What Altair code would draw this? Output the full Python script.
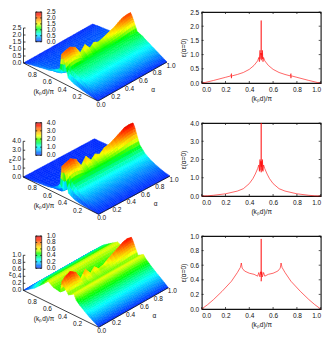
import altair as alt
import pandas as pd

# ---- shared grids of the three surfaces ----
K = [0, .05, .1, .15, .2, .25, .3, .33, .4, .44, .47, .49, .51, .54, .6, .67, .85, .93, 1]
A = [0, .05, .12, .2, .27, .34, .41, .47, .53, .6, .68, .77, .82, .88, .94, 1]

S1 = [
 [0,.03,.08,.13,.18,.25,.32,.37,.55,1.5,1.85,2.0,.95,.8,.6,.4,.2,.1,0],
 [0,.1,.22,.35,.48,.6,.72,.8,.98,1.55,1.95,2.1,.6,.4,.3,.25,.15,.08,0],
 [0,.13,.27,.41,.55,.68,.8,.88,1.03,1.6,2.02,2.18,.4,.28,.2,.18,.12,.06,0],
 [0,.14,.28,.42,.56,.69,.81,.88,1.04,1.5,1.78,1.95,.3,.22,.18,.16,.1,.06,0],
 [0,.14,.28,.42,.56,.69,.81,.88,1.03,1.2,1.3,1.35,.28,.22,.18,.16,.1,.06,0],
 [0,.14,.28,.42,.56,.69,.81,.88,1.03,1.38,1.6,1.75,.28,.22,.18,.16,.1,.06,0],
 [0,.14,.28,.42,.56,.69,.81,.88,1.02,1.18,1.28,1.32,.26,.2,.18,.16,.1,.06,0],
 [0,.14,.28,.42,.56,.69,.81,.88,1.03,1.3,1.45,1.55,.26,.2,.18,.16,.1,.06,0],
 [0,.14,.28,.42,.56,.7,.82,.89,1.03,1.22,1.32,1.4,.26,.2,.18,.16,.1,.06,0],
 [0,.14,.28,.43,.57,.7,.83,.9,1.04,1.27,1.4,1.5,.26,.2,.18,.16,.1,.06,0],
 [0,.14,.28,.43,.57,.71,.84,.91,1.05,1.35,1.55,1.67,.28,.22,.2,.17,.1,.06,0],
 [0,.14,.28,.43,.57,.71,.85,.92,1.06,1.42,1.68,1.82,.3,.24,.2,.18,.11,.06,0],
 [0,.14,.28,.43,.57,.72,.85,.93,1.07,1.5,1.82,1.98,.32,.25,.21,.18,.11,.06,0],
 [0,.14,.28,.43,.57,.72,.86,.94,1.08,1.6,1.98,2.14,.34,.26,.22,.19,.11,.06,0],
 [0,.14,.28,.43,.57,.72,.86,.95,1.09,1.65,2.05,2.2,.36,.27,.22,.19,.11,.06,0],
 [0,.14,.28,.43,.57,.72,.86,.96,1.1,1.65,2.05,2.2,.38,.28,.23,.19,.11,.06,0],
]
S2 = [
 [0,.01,.04,.08,.12,.18,.27,.35,.68,2.5,3.05,3.3,1.3,.9,.55,.3,.1,.04,0],
 [0,.08,.2,.33,.5,.7,.92,1.08,1.7,2.6,3.2,3.45,.3,.15,.1,.07,.03,.01,0],
 [0,.08,.2,.34,.5,.7,.95,1.1,1.75,2.75,3.4,3.65,.25,.12,.08,.06,.03,.01,0],
 [0,.08,.2,.34,.5,.7,.95,1.1,1.75,2.55,3.0,3.25,.25,.12,.08,.06,.03,.01,0],
 [0,.08,.2,.34,.5,.7,.95,1.1,1.75,2.05,2.15,2.2,.22,.12,.08,.06,.03,.01,0],
 [0,.08,.2,.34,.5,.7,.95,1.1,1.75,2.4,2.8,3.0,.22,.12,.08,.06,.03,.01,0],
 [0,.08,.2,.34,.5,.7,.95,1.1,1.75,2.05,2.15,2.25,.22,.12,.08,.06,.03,.01,0],
 [0,.08,.2,.34,.5,.7,.95,1.1,1.75,2.25,2.5,2.7,.22,.12,.08,.06,.03,.01,0],
 [0,.08,.2,.34,.5,.7,.95,1.1,1.75,2.1,2.3,2.4,.22,.12,.08,.06,.03,.01,0],
 [0,.08,.2,.34,.5,.7,.95,1.1,1.76,2.3,2.65,2.85,.24,.12,.08,.06,.03,.01,0],
 [0,.08,.2,.34,.5,.7,.95,1.1,1.77,2.4,2.8,3.0,.25,.13,.08,.06,.03,.01,0],
 [0,.08,.2,.34,.5,.7,.95,1.12,1.78,2.6,3.15,3.4,.26,.13,.09,.06,.03,.01,0],
 [0,.08,.2,.34,.5,.7,.95,1.12,1.8,2.7,3.35,3.6,.28,.14,.09,.06,.03,.01,0],
 [0,.08,.2,.34,.5,.7,.96,1.13,1.8,2.85,3.6,3.9,.3,.14,.09,.06,.03,.01,0],
 [0,.08,.2,.34,.5,.7,.96,1.13,1.8,2.9,3.65,3.95,.3,.15,.09,.06,.03,.01,0],
 [0,.08,.2,.34,.5,.7,.96,1.15,1.82,2.85,3.6,3.9,.3,.15,.09,.06,.03,.01,0],
]
S3 = [
 [0,.07,.13,.2,.28,.36,.46,.6,.5,.62,.7,.78,.47,.48,.5,.6,.22,.1,0],
 [0,.09,.17,.25,.33,.42,.52,.6,.5,.67,.82,.88,.45,.46,.5,.6,.3,.14,0],
 [0,.09,.17,.25,.33,.42,.52,.6,.5,.7,.88,.94,.45,.46,.5,.6,.33,.15,0],
 [0,.09,.17,.25,.33,.42,.52,.6,.5,.66,.78,.83,.45,.46,.5,.6,.33,.15,0],
 [0,.09,.17,.25,.33,.42,.52,.6,.5,.52,.54,.56,.45,.46,.5,.6,.33,.15,0],
 [0,.09,.17,.25,.33,.42,.52,.6,.5,.62,.7,.76,.45,.46,.5,.6,.33,.15,0],
 [0,.09,.17,.25,.33,.42,.52,.6,.5,.52,.54,.56,.45,.46,.5,.6,.33,.15,0],
 [0,.09,.17,.25,.33,.42,.52,.6,.5,.57,.64,.68,.45,.46,.5,.6,.33,.15,0],
 [0,.09,.17,.25,.33,.42,.52,.6,.5,.53,.54,.56,.45,.46,.5,.6,.33,.15,0],
 [0,.09,.17,.25,.33,.42,.52,.6,.5,.55,.57,.6,.45,.46,.5,.6,.33,.15,0],
 [0,.09,.17,.25,.33,.42,.52,.6,.5,.6,.66,.7,.45,.46,.5,.6,.33,.15,0],
 [0,.09,.17,.25,.33,.42,.52,.6,.5,.65,.75,.8,.45,.46,.5,.6,.33,.15,0],
 [0,.09,.17,.25,.33,.42,.52,.6,.5,.67,.8,.85,.45,.46,.5,.6,.33,.15,0],
 [0,.09,.17,.25,.33,.42,.52,.6,.5,.7,.86,.92,.45,.46,.5,.6,.33,.15,0],
 [0,.09,.17,.25,.33,.42,.52,.6,.5,.72,.88,.95,.45,.46,.5,.6,.33,.15,0],
 [0,.09,.17,.25,.33,.42,.52,.6,.5,.7,.86,.92,.45,.46,.5,.6,.33,.15,0],
]
EPS_MAX = [2.5, 4.0, 1.0]
EPS_TICKS = [[0, .5, 1, 1.5, 2, 2.5], [0, 1, 2, 3, 4], [0, .2, .4, .6, .8, 1]]
AXIS_TICKS = [0, .2, .4, .6, .8, 1]

# ---- right-hand curves ----
L1_K = [0,.03,.1,.2,.245,.25,.25,.25,.255,.3,.35,.4,.44,.47,.48,.485,.49,.49,.495,.5,.5,.5,.505,.51,.51,.515,.52,.53,.56,.6,.65,.7,.745,.75,.75,.75,.755,.8,.9,.97,1]
L1_E = [0,.02,.09,.2,.25,.33,.17,.25,.25,.3,.37,.48,.62,.78,.9,.75,1.15,.85,1.05,1.0,2.2,.8,1.05,.85,1.15,.75,.9,.78,.62,.48,.37,.3,.25,.33,.17,.25,.25,.2,.09,.02,0]
L2_K = [0,.05,.1,.2,.3,.35,.4,.43,.45,.47,.48,.485,.49,.49,.495,.5,.5,.5,.505,.51,.51,.515,.52,.53,.55,.57,.6,.65,.7,.8,.9,.95,1]
L2_E = [0,.01,.04,.12,.27,.4,.68,.95,1.2,1.5,1.7,1.35,2.0,1.4,1.9,1.6,4.0,1.3,1.9,1.4,2.0,1.35,1.7,1.5,1.2,.95,.68,.4,.27,.12,.04,.01,0]
L3_K = [0,.05,.1,.17,.25,.3,.325,.333,.34,.36,.4,.44,.47,.48,.49,.495,.5,.5,.5,.505,.51,.52,.53,.56,.6,.64,.66,.667,.675,.7,.75,.83,.9,.95,1]
L3_E = [0,.06,.13,.24,.38,.5,.57,.63,.56,.52,.49,.475,.45,.5,.44,.51,.47,.96,.38,.51,.44,.5,.45,.475,.49,.52,.56,.63,.57,.5,.38,.24,.13,.06,0]

# ---- frame of each 3-D box: origin, k-edge, alpha-edge, height; bar box ----
BOX = [
 dict(o=(98, 100), kv=(-74.5, -38), av=(69, -39), z=35, bar=(35.7, 41.7, 11, 40.7)),
 dict(o=(98.7, 213.3), kv=(-75.5, -37.3), av=(71.3, -38.3), z=35.7, bar=(35.7, 41.7, 121.7, 154.3)),
 dict(o=(98.7, 326.3), kv=(-75.4, -37), av=(69.6, -39.6), z=35, bar=(35.7, 41.7, 235, 267.3)),
]
LEFT, TOP = 8, 11
LEFT_W, LEFT_H = 170, 318.5
SUB_K, SUB_A = 3, 2


def proj(b, k, a, v=0.0):
    return (b['o'][0] + k * b['kv'][0] + a * b['av'][0],
            b['o'][1] + k * b['kv'][1] + a * b['av'][1] - v * b['z'])


features, segs, labels, cells, frames = [], [], [], [], []
for b, S, vmax, eticks in zip(BOX, [S1, S2, S3], EPS_MAX, EPS_TICKS):
    quads = []
    for i in range(len(A) - 1):
        for j in range(len(K) - 1):
            # shade each grid quad in small facets so the colour runs smoothly
            def at(u, w):
                val = (S[i][j] * (1 - u) * (1 - w) + S[i][j + 1] * u * (1 - w)
                       + S[i + 1][j] * (1 - u) * w + S[i + 1][j + 1] * u * w) / vmax
                return K[j] + (K[j + 1] - K[j]) * u, A[i] + (A[i + 1] - A[i]) * w, val
            for su in range(SUB_K):
                for sw in range(SUB_A):
                    cs = [at(su / SUB_K, sw / SUB_A), at((su + 1) / SUB_K, sw / SUB_A),
                          at((su + 1) / SUB_K, (sw + 1) / SUB_A), at(su / SUB_K, (sw + 1) / SUB_A)]
                    ring = [[round(c, 2) for c in proj(b, *c3)] for c3 in cs]
                    ring.append(ring[0])
                    quads.append((sum(c[0] + c[1] for c in cs), round(sum(c[2] for c in cs) / 4, 3), ring))
    quads.sort(key=lambda t: -t[0])
    for _, v, ring in quads:
        features.append({'type': 'Feature', 'properties': {'v': v},
                         'geometry': {'type': 'Polygon', 'coordinates': [ring]}})

    # box edges
    o = proj(b, 0, 0)
    kc = proj(b, 1, 0)
    ac = proj(b, 0, 1)
    tp = proj(b, 1, 0, 1)
    segs.append(dict(x=o[0], y=o[1], x2=kc[0], y2=kc[1]))
    segs.append(dict(x=o[0], y=o[1], x2=ac[0], y2=ac[1]))
    segs.append(dict(x=kc[0], y=kc[1], x2=tp[0], y2=tp[1]))
    for t in AXIS_TICKS:
        p = proj(b, t, 0)
        if t == 0:
            labels.append(dict(x=p[0] + 3, y=p[1] + 4, t='0.0', a='center'))
        elif t < 1:
            labels.append(dict(x=p[0] - 6, y=p[1] + 4, t=format(t, '.1f'), a='center'))
        q = proj(b, 0, t)
        if t > 0:
            labels.append(dict(x=q[0] + 4, y=q[1] + 3.5, t=format(t, '.1f'), a='center'))
    for t in eticks:
        p = proj(b, 1, 0, t / vmax)
        labels.append(dict(x=p[0] - 2, y=p[1], t=format(t, '.1f'), a='right'))
        segs.append(dict(x=p[0], y=p[1], x2=p[0] + 2, y2=p[1]))
        x0, x1, y0, y1 = b['bar']
        yb = y1 + (y0 - y1) * t / vmax
        labels.append(dict(x=x1 + 5, y=yb, t=format(t, '.1f'), a='left'))
        segs.append(dict(x=x0, y=yb, x2=x0 + 1.5, y2=yb))
        segs.append(dict(x=x1, y=yb, x2=x1 - 1.5, y2=yb))
    mid = proj(b, .5, 0)
    labels.append(dict(x=mid[0] - 17, y=mid[1] + 10, t='(kₚd)/π', a='center'))
    mid = proj(b, 0, .8)
    labels.append(dict(x=mid[0], y=mid[1] + 20, t='α', a='center'))
    labels.append(dict(x=10.5, y=kc[1] - 16, t='ε', a='center'))
    x0, x1, y0, y1 = b['bar']
    n = 40
    for c in range(n):
        cells.append(dict(x=x0, x2=x1, y=y1 + (y0 - y1) * c / n, y2=y1 + (y0 - y1) * (c + 1) / n, v=(c + .5) / n))
    frames.append(dict(x=x0, x2=x1, y=y0, y2=y1))

color_scale = alt.Scale(
    domain=[0, .12, .25, .36, .45, .53, .61, .76, .93, 1],
    range=['#0028ff', '#0090ff', '#00ffff', '#00ff80', '#00ff00', '#90ff00', '#ffff00', '#ff9000', '#ff1000', '#d00000'],
    interpolate='rgb')
xs = alt.Scale(domain=[LEFT, LEFT + LEFT_W], nice=False, zero=False)
ys = alt.Scale(domain=[TOP + LEFT_H, TOP], nice=False, zero=False)
X = alt.X('x:Q', scale=xs, axis=None)
Y = alt.Y('y:Q', scale=ys, axis=None)

surface = alt.Chart(alt.InlineData(values=features)).mark_geoshape(strokeWidth=.4).encode(
    color=alt.Color('properties.v:Q', scale=color_scale, legend=None),
    stroke=alt.Stroke('properties.v:Q', scale=color_scale, legend=None),
).project(type='identity', scale=1, translate=[-LEFT, -TOP])
edges = alt.Chart(pd.DataFrame(segs)).mark_rule(color='#111', strokeWidth=.8).encode(x=X, y=Y, x2='x2:Q', y2='y2:Q')
bar = alt.Chart(pd.DataFrame(cells)).mark_rect().encode(
    x=X, y=Y, x2='x2:Q', y2='y2:Q',
    color=alt.Color('v:Q', scale=color_scale, legend=None))
bar_frame = alt.Chart(pd.DataFrame(frames)).mark_rect(fill=None, stroke='#333', strokeWidth=.8).encode(x=X, y=Y, x2='x2:Q', y2='y2:Q')
FONT = 'Liberation Sans'
def text_layer(align):
    d = pd.DataFrame([l for l in labels if l['a'] == align])
    return alt.Chart(d).mark_text(font=FONT, fontSize=6.5, align=align, baseline='middle', color='#111').encode(x=X, y=Y, text='t:N')

left = alt.layer(surface, bar, bar_frame, edges, text_layer('center'), text_layer('right'), text_layer('left')).properties(
    width=LEFT_W, height=LEFT_H, view=alt.ViewBackground(stroke=None))


def curve(ks, es, ymax, yticks, h):
    base = alt.Chart(pd.DataFrame({'k': ks, 'e': es, 'o': range(len(ks))}))
    xsc = alt.Scale(domain=[0, 1], nice=False)
    ysc = alt.Scale(domain=[0, ymax], nice=False)
    common = dict(format='.1f', grid=False, domain=False, tickSize=0, labelPadding=3, labelFont=FONT, titleFont=FONT,
                  labelFontSize=6.5, titleFontSize=6.5, titleFontWeight='normal', labelColor='#111', titleColor='#111',
                  labelOverlap=False)
    ax = alt.Axis(title='(kₚd)/π', values=AXIS_TICKS, titlePadding=3, **common)
    ay = alt.Axis(title='ε(α=0)', values=yticks, titlePadding=3, **common)
    line = base.mark_line(color='#ff0000', strokeWidth=.6).encode(
        x=alt.X('k:Q', scale=xsc, axis=ax),
        y=alt.Y('e:Q', scale=ysc, axis=ay),
        order='o:Q')
    xt = pd.DataFrame({'k': AXIS_TICKS})
    yt = pd.DataFrame({'e': yticks})
    rule = alt.Chart(xt).mark_rule(color='#111', strokeWidth=.7)
    ruley = alt.Chart(yt).mark_rule(color='#111', strokeWidth=.7)
    t1 = rule.encode(x=alt.X('k:Q', scale=xsc, axis=ax), y=alt.value(h), y2=alt.value(h - 2))
    t2 = rule.encode(x=alt.X('k:Q', scale=xsc, axis=ax), y=alt.value(0), y2=alt.value(2))
    t3 = ruley.encode(y=alt.Y('e:Q', scale=ysc, axis=ay), x=alt.value(0), x2=alt.value(2))
    t4 = ruley.encode(y=alt.Y('e:Q', scale=ysc, axis=ay), x=alt.value(119), x2=alt.value(117))
    return alt.layer(line, t1, t2, t3, t4).properties(
        width=119, height=h, view=alt.ViewBackground(stroke='#111', strokeWidth=1.1))


right = alt.vconcat(
    curve(L1_K, L1_E, 2.5, EPS_TICKS[0], 71),
    curve(L2_K, L2_E, 4.0, EPS_TICKS[1], 73),
    curve(L3_K, L3_E, 1.0, EPS_TICKS[2], 73),
    spacing=40, bounds='flush')

chart = alt.hconcat(left, right, spacing=23.7, bounds='flush').properties(
    padding={'left': 0, 'top': 0, 'right': 0, 'bottom': 0},
    background='white')
chart.save('out.html', embed_options={'renderer': 'svg', 'actions': False})
